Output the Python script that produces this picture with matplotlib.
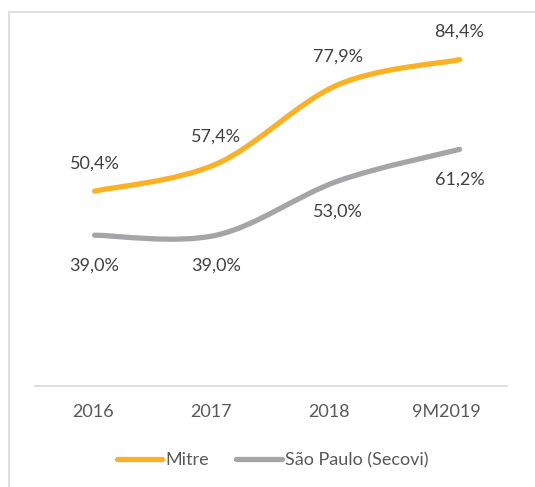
import numpy as np
import matplotlib.pyplot as plt
from matplotlib.path import Path
from matplotlib.patches import PathPatch, Rectangle

# dados
categorias = ["2016", "2017", "2018", "9M2019"]
mitre = [50.4, 57.4, 77.9, 84.4]
sao_paulo = [39.0, 39.0, 53.0, 61.2]
nomes = ["Mitre", "São Paulo (Secovi)"]
cores = ["#FBB124", "#A5A5A8"]

plt.rcParams['font.family'] = ['Lato', 'DejaVu Sans']


def smooth_path(xs, ys):
    # curva suavizada estilo Excel (bezier / catmull-rom)
    pts = np.column_stack([xs, ys]).astype(float)
    n = len(pts)
    verts = [pts[0]]
    codes = [Path.MOVETO]
    for i in range(n - 1):
        p0 = pts[max(i - 1, 0)]
        p1 = pts[i]
        p2 = pts[i + 1]
        p3 = pts[min(i + 2, n - 1)]
        c1 = p1 + (p2 - p0) / 6
        c2 = p2 - (p3 - p1) / 6
        verts += [c1, c2, p2]
        codes += [Path.CURVE4] * 3
    return Path(verts, codes)


fig = plt.figure(figsize=(5.35, 4.87), dpi=100)
ax = fig.add_axes([35/535, 101/487, 472/535, 348/487])

x = np.arange(len(categorias))
for serie, cor in zip([mitre, sao_paulo], cores):
    ax.add_patch(PathPatch(smooth_path(x, serie), facecolor='none', edgecolor=cor,
                           lw=3.8, capstyle='round'))

# rótulos
for xi, v in zip(x, mitre):
    ax.annotate(f"{v:.1f}%".replace('.', ','), (xi, v), xytext=(0, 20),
                textcoords='offset points', ha='center', va='center',
                fontsize=13, color='#404040')
for xi, v in zip(x, sao_paulo):
    ax.annotate(f"{v:.1f}%".replace('.', ','), (xi, v), xytext=(0, -22),
                textcoords='offset points', ha='center', va='center',
                fontsize=13, color='#404040')

ax.set_xlim(-0.49, 3.39)
ax.set_ylim(0, 90)
ax.set_xticks(x * 0.97 - 0.016)
ax.set_xticklabels(categorias, fontsize=13, color='#595959')
ax.tick_params(axis='x', length=0, pad=13)
ax.set_yticks([])
for s in ['top', 'right', 'left']:
    ax.spines[s].set_visible(False)
ax.spines['bottom'].set_color('#D9D9D9')
ax.spines['bottom'].set_linewidth(1.2)

# legenda
handles = [plt.Line2D([], [], color=c, lw=3.8, solid_capstyle='round') for c in cores]
fig.legend(handles, nomes, loc='center', bbox_to_anchor=(0.51, 0.055), ncol=2,
           frameon=False, fontsize=13, handlelength=2.5, handletextpad=0.2,
           columnspacing=1.5, labelcolor='#595959')

# moldura
fig.patches.append(Rectangle((9/535, -0.2), 1.2, 1.2 - 12/487, transform=fig.transFigure,
                             fill=False, edgecolor='#D9D9D9', lw=1.2))

fig.savefig('out.png', dpi=100)
